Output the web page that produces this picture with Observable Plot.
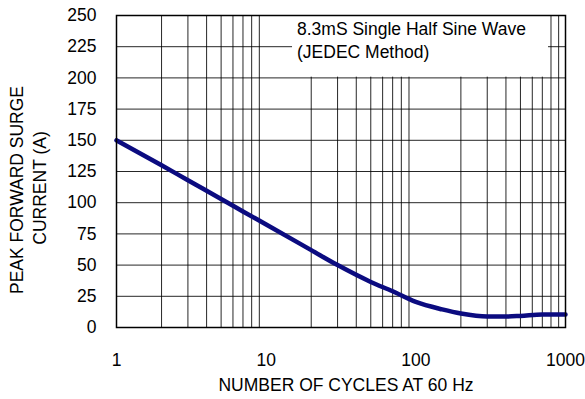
<!DOCTYPE html>
<html>
<head>
<meta charset="utf-8">
<script src="https://cdn.jsdelivr.net/npm/d3@7"></script>
<script src="https://cdn.jsdelivr.net/npm/@observablehq/plot@0.6"></script>
<style>
  html, body { margin: 0; padding: 0; background: #fff; }
  #chart { width: 585px; height: 399px; }
</style>
</head>
<body>
<div id="chart"></div>
<script>
// Data
const cycles  = [1, 2, 3, 5, 7, 10, 20, 30, 50, 70, 100, 150, 200, 300, 400, 500, 700, 1000];
const current = [150, 130, 118, 103, 93, 82.5, 62, 50, 36.5, 29, 20.5, 14.5, 11.2, 8.8, 8.8, 9.3, 10.4, 10.5];

const xTicks = [1, 10, 100, 1000];
const yTicks = [0, 25, 50, 75, 100, 125, 150, 175, 200, 225, 250];
const xGrid  = [2, 3, 4, 5, 6, 7, 8, 9, 20, 30, 40, 50, 60, 70, 80, 90, 200, 300, 400, 500, 600, 700, 800, 900];
const yGrid  = [25, 50, 75, 100, 125, 150, 175, 200, 225];

const noteLines = ["8.3mS Single Half Sine Wave", "(JEDEC Method)"];
const noteBox = [{x1: 15, x2: 770, y1: 200.6, y2: 250}];

const xTitle = "NUMBER OF CYCLES AT 60 Hz";
const yTitle = ["PEAK FORWARD SURGE", "CURRENT (A)"];

const data = cycles.map((c, i) => ({c, v: current[i]}));
const FONT = "'Liberation Sans', Arial, Helvetica, sans-serif";

const chart = Plot.plot({
  width: 585,
  height: 399,
  marginLeft: 116,
  marginRight: 20,
  marginTop: 15,
  marginBottom: 72,
  style: {fontFamily: FONT, fontSize: "17.5px", color: "#000", background: "#fff"},
  x: {type: "log", domain: [1, 1000]},
  y: {domain: [0, 250]},
  marks: [
    Plot.ruleX(xGrid, {stroke: "#000", strokeWidth: 1, strokeOpacity: 0.85}),
    Plot.ruleY(yGrid, {stroke: "#000", strokeWidth: 1, strokeOpacity: 0.85}),
    Plot.rect(noteBox, {x1: "x1", x2: "x2", y1: "y1", y2: "y2", fill: "#fff"}),
    Plot.line(data, {x: "c", y: "v", stroke: "#0b0b80", strokeWidth: 4.5, curve: "monotone-x"}),
    Plot.frame({stroke: "#000", strokeWidth: 1.5}),
    Plot.axisX(xTicks, {tickSize: 0, tickPadding: 26, tickFormat: d => String(d), label: null, fontSize: 17.5}),
    Plot.axisY(yTicks, {tickSize: 0, tickPadding: 20, label: null, fontSize: 17.5})
  ]
});

document.getElementById("chart").appendChild(chart);

const svg = d3.select(chart);
function addText(x, y, txt, anchor, transform) {
  const t = svg.append("text")
    .attr("font-family", FONT).attr("font-size", "17.5px").attr("fill", "#000")
    .attr("text-anchor", anchor)
    .text(txt);
  if (transform) t.attr("transform", transform);
  else t.attr("x", x).attr("y", y);
  return t;
}
// Annotation text
addText(297, 35, noteLines[0], "start");
addText(297, 58, noteLines[1], "start");
// X title
addText(346, 391, xTitle, "middle");
// Y title (two lines, rotated)
addText(0, 0, yTitle[0], "middle", "translate(23,190) rotate(-90)");
addText(0, 0, yTitle[1], "middle", "translate(46,188) rotate(-90)");
</script>
</body>
</html>
